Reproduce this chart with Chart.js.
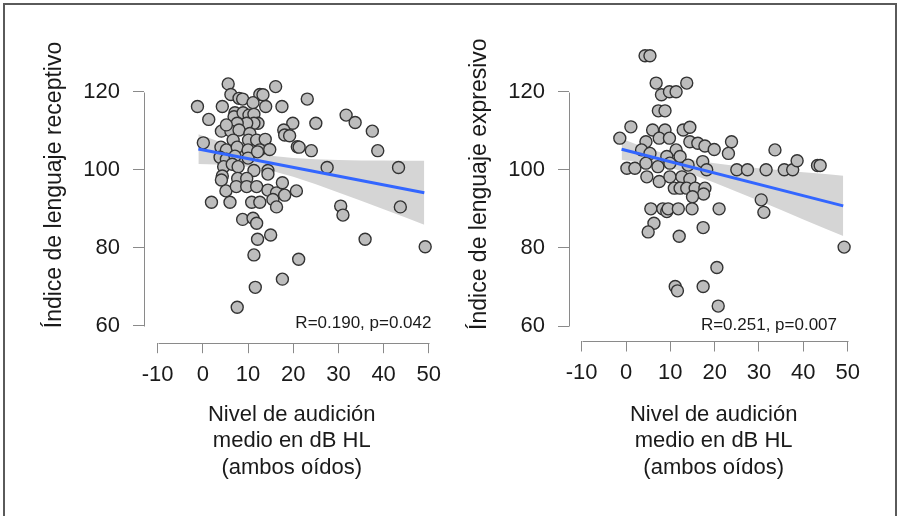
<!DOCTYPE html>
<html><head><meta charset="utf-8">
<script src="https://cdn.jsdelivr.net/npm/chart.js@4.4.1/dist/chart.umd.min.js"></script>
<style>
html,body{margin:0;padding:0;background:#fff;}
body{width:899px;height:516px;position:relative;overflow:hidden;font-family:"Liberation Sans",Arial,sans-serif;}
#frame{position:absolute;left:3px;top:3px;width:894px;height:530px;border:2px solid #5a5a5a;box-sizing:border-box;}
canvas{position:absolute;top:0;}
</style></head><body>
<div id="frame"></div>
<canvas id="c1" width="450" height="516" style="left:0"></canvas>
<canvas id="c2" width="449" height="516" style="left:450px"></canvas>
<script>
// ---------- data ----------
const xTicks = [-10, 0, 10, 20, 30, 40, 50];
const yTicks = [60, 80, 100, 120];
const xTitle = ["Nivel de audición", "medio en dB HL", "(ambos oídos)"];
const recTitle = "Índice de lenguaje receptivo";
const expTitle = "Índice de lenguaje expresivo";
const recLabel = "R=0.190, p=0.042";
const expLabel = "R=0.251, p=0.007";

// receptive language index vs hearing level
const recX = [5.6,16.1,6.2,8.0,8.8,12.6,13.3,-1.2,4.3,11.1,13.9,17.5,1.3,7.1,6.9,8.9,10.2,11.3,12.2,11.3,9.7,7.6,19.9,17.9,18.1,4.1,6.2,8.0,10.4,5.2,10.1,11.9,13.8,6.7,0.1,4.0,5.2,7.6,10.0,12.6,14.8,20.9,3.8,5.2,7.1,10.0,4.6,6.5,7.8,11.3,14.4,14.4,4.3,4.1,7.7,9.7,5.1,7.4,9.7,11.9,14.4,16.3,17.6,18.1,20.7,1.9,6.0,10.8,12.6,15.5,16.3,8.8,11.1,11.9,12.1,15.0,11.3,21.2,17.6,11.6,7.6,23.1,25.0,31.7,33.7,37.5,19.2,21.3,24.0,38.7,27.5,43.3,30.5,31.0,43.7,35.9,49.2,12.1];
const recY = [122.0,121.3,119.3,118.3,118.1,119.3,119.2,116.2,116.2,117.2,116.2,116.2,112.9,114.6,113.6,114.6,114.0,114.2,111.9,111.9,111.9,111.9,111.9,110.2,108.9,109.9,109.9,110.2,109.3,111.5,107.6,107.6,107.8,107.6,106.9,105.8,105.1,105.8,105.1,105.1,105.2,105.9,103.2,102.7,103.5,103.0,100.8,101.4,100.8,99.8,99.8,98.9,98.4,97.4,97.8,97.8,94.6,95.7,95.7,95.7,94.8,94.1,96.7,93.5,94.6,91.7,91.7,91.7,91.7,92.4,90.5,87.3,87.6,86.3,82.2,83.3,78.2,77.1,72.0,69.9,64.8,118.1,111.9,114.0,112.1,109.9,108.7,105.8,104.9,104.9,100.6,100.6,90.7,88.4,90.5,82.2,80.3,104.6];
const recFitX = [-1, 49];
const recFitY = [105.3, 94.1];
const bandX = [-1, 5, 10, 15, 20, 25, 30, 35, 40, 45, 49];
const recUpper = [109.1, 106.7, 104.9, 103.6, 103.0, 102.7, 102.5, 102.4, 102.4, 102.3, 102.3];
const recLower = [101.5, 101.3, 100.8, 99.8, 98.2, 96.3, 94.2, 92.1, 89.9, 87.7, 85.9];

// expressive language index vs hearing level
const expX = [4.3,5.4,6.8,8.0,9.8,11.3,13.7,7.3,8.8,1.1,-1.4,6.0,8.8,12.9,14.4,4.5,7.5,9.8,11.3,14.4,16.2,17.8,19.9,3.5,5.4,9.2,12.2,0.2,2.0,4.5,7.2,9.9,14.0,17.3,18.2,4.7,7.5,9.9,12.6,14.4,10.9,12.2,13.7,15.6,17.8,17.5,15.0,5.6,8.3,9.2,9.5,11.8,14.9,21.0,6.3,5.0,12.0,17.4,20.5,11.1,11.6,17.4,20.8,23.8,23.1,33.6,25.0,27.4,31.6,35.7,37.6,38.6,43.2,43.8,30.5,31.1,49.2];
const expY = [129.2,129.2,122.2,119.2,120.0,120.0,122.2,115.1,115.1,111.0,108.1,110.2,110.2,110.2,110.9,107.2,108.1,108.1,105.1,107.2,106.8,106.1,105.2,105.1,104.2,103.4,103.4,100.4,100.4,101.7,100.8,101.7,101.2,102.1,100.0,98.2,97.0,98.2,98.2,97.6,95.3,95.3,95.3,95.3,95.3,93.8,93.1,90.0,90.0,89.3,90.0,90.0,90.0,90.0,86.3,84.1,83.0,85.2,75.0,70.1,69.0,70.1,65.1,107.2,104.2,105.1,100.0,100.0,100.0,100.0,100.0,102.3,101.1,101.1,92.3,89.1,80.2];
const expFitX = [-1, 49];
const expFitY = [105.25, 90.75];
const expUpper = [107.95, 105.4, 103.7, 102.5, 101.7, 101.0, 100.4, 99.9, 99.4, 98.9, 98.45];
const expLower = [102.55, 101.6, 100.5, 98.8, 96.7, 94.4, 92.1, 89.7, 87.3, 84.9, 83.05];

// ---------- drawing ----------
const FONT = '"Liberation Sans", Arial, sans-serif';
const pts = (xs, ys) => xs.map((x, i) => ({x, y: ys[i]}));

const axisPlugin = {
  id: 'rAxes',
  afterDraw(chart, args, opts) {
    const {ctx, chartArea} = chart;
    const xs = chart.scales.x, ys = chart.scales.y;
    ctx.save();
    ctx.strokeStyle = '#8a8a8a';
    ctx.lineWidth = 1;
    ctx.beginPath();
    const by = Math.round(chartArea.bottom) + 0.5;
    ctx.moveTo(Math.round(xs.getPixelForValue(xTicks[0])) + 0.5, by);
    ctx.lineTo(Math.round(xs.getPixelForValue(xTicks[xTicks.length - 1])) + 0.5, by);
    const lx = Math.round(chartArea.left) + 0.5;
    ctx.moveTo(lx, Math.round(ys.getPixelForValue(yTicks[0])) + 0.5);
    ctx.lineTo(lx, Math.round(ys.getPixelForValue(yTicks[yTicks.length - 1])) + 0.5);
    ctx.stroke();
    ctx.fillStyle = '#1a1a1a';
    ctx.font = '17px ' + FONT;
    ctx.textAlign = 'right';
    ctx.textBaseline = 'alphabetic';
    ctx.fillText(opts.text, chartArea.right - opts.dx, opts.y);
    ctx.restore();
  }
};

function makeChart(id, c) {
  new Chart(document.getElementById(id), {
    type: 'scatter',
    data: {
      datasets: [
        {type: 'line', data: pts(bandX, c.upper), fill: '+1', backgroundColor: '#d5d5d5',
         borderWidth: 0, pointRadius: 0, order: 3},
        {type: 'line', data: pts(bandX, c.lower), fill: false, borderWidth: 0, pointRadius: 0, order: 3},
        {type: 'scatter', data: pts(c.x, c.y), pointRadius: 6, backgroundColor: '#bdbdbd',
         borderColor: '#333333', borderWidth: 1.4, order: 2},
        {type: 'line', data: pts(c.fitX, c.fitY), borderColor: '#3366ff', borderWidth: 3,
         pointRadius: 0, fill: false, order: 1}
      ]
    },
    options: {
      responsive: false, animation: false, events: [],
      layout: {padding: {left: 0, right: c.padRight, top: 27.3, bottom: 13.3}},
      plugins: {legend: {display: false}, tooltip: {enabled: false},
                rAxes: {text: c.label, dx: c.labelDx, y: c.labelY}},
      scales: {
        x: {
          type: 'linear', min: c.xMin, max: c.xMax,
          afterBuildTicks: s => { s.ticks = xTicks.map(v => ({value: v})); },
          afterFit: s => { s.height = c.xHeight; },
          border: {display: false},
          grid: {drawOnChartArea: false, drawTicks: true, tickLength: 10.5, color: '#8a8a8a'},
          ticks: {padding: 8.6, color: '#1a1a1a', font: {size: 22, family: FONT}, maxRotation: 0},
          title: {display: true, text: xTitle, color: '#1a1a1a',
                  font: {size: 22, family: FONT, lineHeight: '26.5px'},
                  padding: {top: 0, bottom: 22}}
        },
        y: {
          type: 'linear', min: c.yMin, max: c.yMax,
          afterBuildTicks: s => { s.ticks = yTicks.map(v => ({value: v})); },
          afterFit: s => { s.width = c.yWidth; },
          border: {display: false},
          grid: {drawOnChartArea: false, drawTicks: true, tickLength: 11, color: '#8a8a8a'},
          ticks: {padding: 13, color: '#1a1a1a', font: {size: 22, family: FONT}},
          title: {display: true, text: c.yTitle, color: '#1a1a1a',
                  font: {size: 23, family: FONT}, padding: {top: c.yTitlePad, bottom: 0}}
        }
      }
    },
    plugins: [axisPlugin]
  });
}

makeChart('c1', {x: recX, y: recY, fitX: recFitX, fitY: recFitY, upper: recUpper, lower: recLower,
  xMin: -13.03, xMax: 52.36, yMin: 55.72, yMax: 136.49, yWidth: 144, xHeight: 160,
  padRight: 10, yTitle: recTitle, yTitlePad: 41.2, label: recLabel, labelDx: 8, labelY: 328});
makeChart('c2', {x: expX, y: expY, fitX: expFitX, fitY: expFitY, upper: expUpper, lower: expLower,
  xMin: -12.86, xMax: 52.4, yMin: 56.16, yMax: 136.49, yWidth: 119, xHeight: 161.7,
  padRight: 40.7, yTitle: expTitle, yTitlePad: 16.2, label: expLabel, labelDx: 21.3, labelY: 330});
</script>
</body></html>
